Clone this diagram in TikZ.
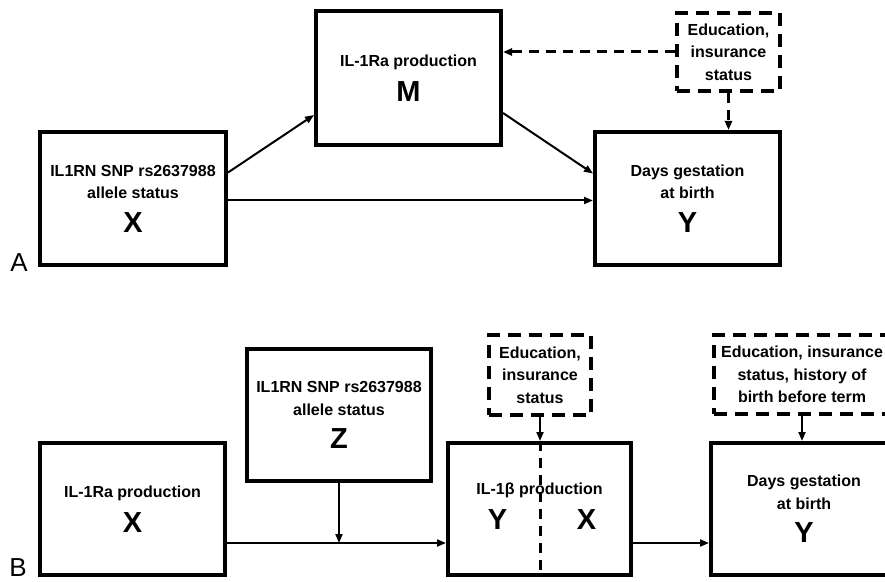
\documentclass[tikz,border=0pt]{standalone}
\usepackage{fontspec}
\setmainfont{Liberation Sans}
\usetikzlibrary{arrows.meta}

\newcommand{\bigvar}[1]{{\fontsize{29}{34}\selectfont #1}}

\begin{document}
\begin{tikzpicture}[x=1pt,y=1pt,
    var/.style={draw,line width=4pt,minimum width=186pt,minimum height=133pt,
        align=center,inner sep=0pt,font=\bfseries\fontsize{16}{22.5}\selectfont},
    cov/.style={var,dash pattern=on 13pt off 8pt},
    path/.style={line width=2pt,-{Triangle[length=9pt,width=7pt]}},
    dpath/.style={path,line width=3pt,dash pattern=on 10pt off 7pt},
    panel/.style={font=\fontsize{26}{30}\selectfont}]
    \useasboundingbox (0,0) rectangle (885,581);
    \clip (0,0) rectangle (885,581);

    % A: mediation
    \node[var] (snpA) at (133,382.5) {IL1RN SNP rs2637988\\allele status\\[11pt]\bigvar{X}};
    \node[var,minimum width=185pt,minimum height=134pt] (prodA) at (408.5,503) {IL-1Ra production\\[11pt]\bigvar{M}};
    \node[var,minimum width=185pt] (daysA) at (687.5,382.5) {Days gestation\\at birth\\[11pt]\bigvar{Y}};
    \node[cov,minimum width=103pt,minimum height=78pt] (covA) at (728.5,529) {Education,\\insurance\\status};
    \node[panel] (labA) at (19,318) {A};

    \draw[path] ([yshift=26pt]snpA.east) -- ([yshift=-37pt]prodA.west);
    \draw[path] ([yshift=-35pt]prodA.east) -- ([yshift=25pt]daysA.west);
    \draw[path] ([yshift=-2pt]snpA.east) -- ([yshift=-2pt]daysA.west);
    \draw[dpath] (covA.west) -- (covA.west -| prodA.east);
    \draw[dpath] (covA.south) -- (covA.south |- daysA.north);

    % B: moderated path
    \node[var,minimum width=185pt,minimum height=132pt] (prodB) at (132.5,72) {IL-1Ra production\\[11pt]\bigvar{X}};
    \node[var,minimum width=184pt,minimum height=132pt] (snpB) at (339,166) {IL1RN SNP rs2637988\\allele status\\[11pt]\bigvar{Z}};
    \node[var,minimum width=183pt,minimum height=132pt] (ilb) at (539.5,72) {};
    \node[var,draw=none,anchor=center] (ilbname) at ([yshift=19pt]ilb.center) {IL-1β production};
    \node[var,draw=none,minimum width=0pt,minimum height=0pt] (ilbY) at ([xshift=-42pt,yshift=-11pt]ilb.center) {\bigvar{Y}};
    \node[var,draw=none,minimum width=0pt,minimum height=0pt] (ilbX) at ([xshift=47pt,yshift=-11pt]ilb.center) {\bigvar{X}};
    \node[var,minimum width=186pt,minimum height=132pt] (daysB) at (804,72) {Days gestation\\at birth\\[11pt]\bigvar{Y}};
    \node[cov,minimum width=102pt,minimum height=80pt] (covB) at (540,206) {Education,\\insurance\\status};
    \node[cov,minimum width=176pt,minimum height=79pt] (covC) at (802,206.5) {Education, insurance\\status, history of\\birth before term};
    \node[panel] (labB) at (18,13) {B};

    \coordinate (mod) at ([yshift=-34pt]prodB.east -| snpB.south);
    \draw[path] ([yshift=-34pt]prodB.east) -- ([yshift=-34pt]prodB.east -| ilb.west);
    \draw[path] (snpB.south) -- (mod);
    \draw[path] ([yshift=-34pt]ilb.east) -- ([yshift=-34pt]ilb.east -| daysB.west);
    \draw[path] (covB.south) -- (covB.south |- ilb.north);
    \draw[dpath,-] (covB.south |- ilb.north) -- (covB.south |- ilb.south);
    \draw[path] (covC.south) -- (covC.south |- daysB.north);
\end{tikzpicture}
\end{document}
